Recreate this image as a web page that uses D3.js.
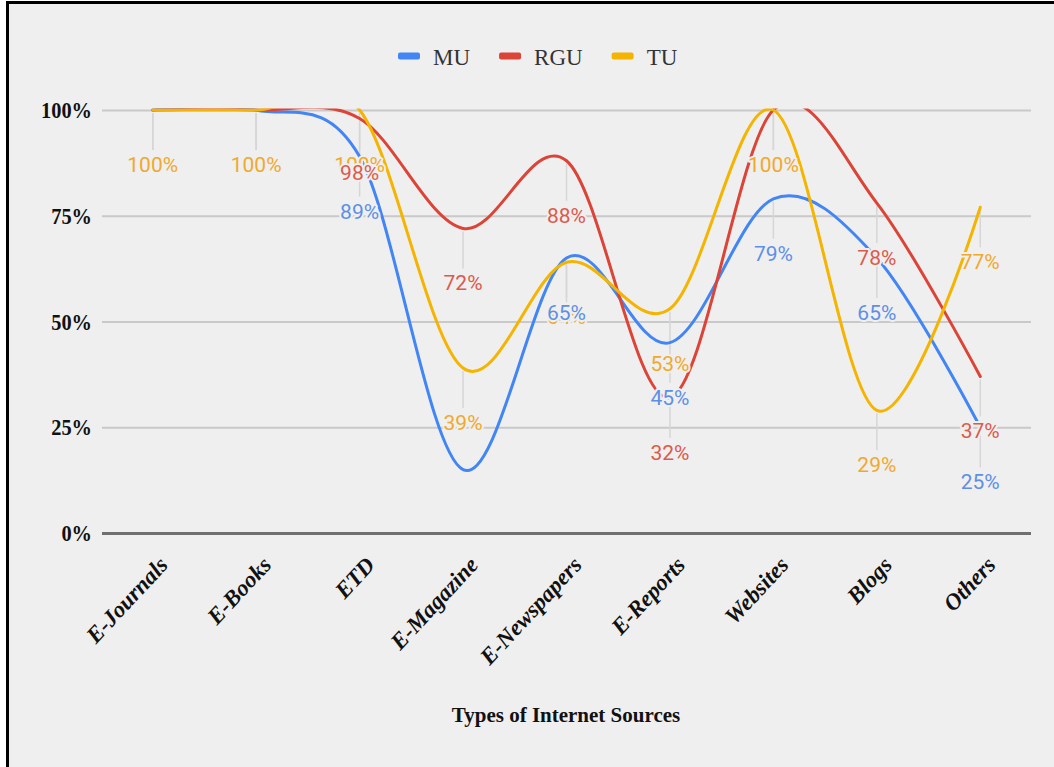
<!DOCTYPE html>
<html>
<head>
<meta charset="utf-8">
<script src="https://cdn.jsdelivr.net/npm/d3@7"></script>
<style>
  body { margin: 0; background: #fff; }
  svg { display: block; }
</style>
</head>
<body>
<svg id="chart"></svg>
<script>
// data (percent)
const categories = ["E-Journals", "E-Books", "ETD", "E-Magazine", "E-Newspapers", "E-Reports", "Websites", "Blogs", "Others"];
const muValues  = [100, 100, 89, 15, 65, 45, 79, 65, 25];
const rguValues = [100, 100, 98, 72, 88, 32, 100, 78, 37];
const tuValues  = [100, 100, 100, 39, 64, 53, 100, 29, 77];
const seriesNames = ["MU", "RGU", "TU"];
const yTicks = [0, 25, 50, 75, 100];
const xTitle = "Types of Internet Sources";

let width = 1054;
let height = 767;

let plot = { left: 102, right: 1031, top: 110, bottom: 533 };

const lineColors  = ["#4285f4", "#db4437", "#f4b400"];
const labelColors = ["#5e8fe6", "#dc5a4c", "#f0a92e"];
const bg = "#efefef";

const series = [muValues, rguValues, tuValues].map((vals, i) => ({
  name: seriesNames[i],
  line: lineColors[i],
  label: labelColors[i],
  points: vals.map((v, j) => ({ cat: categories[j], v: v, s: i }))
}));

let svg = d3.select("#chart")
  .attr("width", width)
  .attr("height", height);

// frame: background with a black edge on top and left
svg.append("rect").attr("x", 6).attr("y", 1).attr("width", width).attr("height", height).attr("fill", bg);
svg.append("rect").attr("x", 6).attr("y", 1).attr("width", width).attr("height", 3).attr("fill", "#000");
svg.append("rect").attr("x", 6).attr("y", 1).attr("width", 3).attr("height", height).attr("fill", "#000");

let xScale = d3.scalePoint()
  .domain(categories)
  .range([plot.left - 1, plot.right + 1])
  .padding(0.5);

let yScale = d3.scaleLinear()
  .domain([0, 100])
  .range([plot.bottom, plot.top]);

// y axis + gridlines
let yAxis = d3.axisLeft(yScale)
  .tickValues(yTicks)
  .tickSize(-(plot.right - plot.left))
  .tickPadding(10)
  .tickFormat(d => d + "%");

let yg = svg.append("g")
  .attr("class", "yaxis axis")
  .attr("transform", `translate(${plot.left},0)`)
  .call(yAxis);
yg.select(".domain").remove();
yg.selectAll(".tick line")
  .attr("stroke", d => d === 0 ? "#6f6f6f" : "#c9c9c9")
  .attr("stroke-width", d => d === 0 ? 3 : 2);
yg.selectAll(".tick text")
  .attr("font-family", "'Liberation Serif', serif")
  .attr("font-weight", "bold")
  .attr("font-size", 24)
  .attr("fill", "#111")
  .attr("x", -10 / 0.85)
  .attr("transform", "scale(0.85,1)");

// x axis labels
let xAxis = d3.axisBottom(xScale).tickSize(0).tickPadding(0);
let xg = svg.append("g")
  .attr("class", "xaxis axis")
  .attr("transform", `translate(0,${plot.bottom})`)
  .call(xAxis);
xg.select(".domain").remove();
xg.selectAll(".tick text")
  .attr("font-family", "'Liberation Serif', serif")
  .attr("font-weight", "bold")
  .attr("font-style", "italic")
  .attr("font-size", 23)
  .attr("fill", "#111")
  .attr("text-anchor", "end")
  .attr("x", 0).attr("y", 0).attr("dy", null)
  .attr("transform", "translate(16,33) rotate(-47)");

svg.append("text")
  .text(xTitle)
  .attr("x", 566)
  .attr("y", 722)
  .attr("text-anchor", "middle")
  .attr("font-family", "'Liberation Serif', serif")
  .attr("font-weight", "bold")
  .attr("font-size", 21)
  .attr("fill", "#111");

// label placement: text sits under its point
const labelDrop = 62;
const allPoints = series.flatMap(s => s.points)
  .filter(p => yScale(p.v) + labelDrop < plot.bottom - 8);

// faint leader lines from point down to label
svg.append("g").selectAll("line")
  .data(allPoints)
  .join("line")
  .attr("x1", d => xScale(d.cat))
  .attr("x2", d => xScale(d.cat))
  .attr("y1", d => yScale(d.v) + 3)
  .attr("y2", d => yScale(d.v) + labelDrop - 22)
  .attr("stroke", "#d6d6d6")
  .attr("stroke-width", 1.5);

// lines, clipped to the plot area like the original
svg.append("clipPath").attr("id", "plot-clip")
  .append("rect")
  .attr("x", plot.left).attr("y", plot.top - 1.5)
  .attr("width", plot.right - plot.left).attr("height", plot.bottom - plot.top + 3);

let line = d3.line()
  .x(d => xScale(d.cat))
  .y(d => yScale(d.v))
  .curve(d3.curveCardinal.tension(0));

svg.append("g").attr("clip-path", "url(#plot-clip)")
  .selectAll("path")
  .data(series)
  .join("path")
  .attr("d", d => line(d.points))
  .attr("fill", "none")
  .attr("stroke", d => d.line)
  .attr("stroke-width", 3)
  .attr("stroke-linecap", "round");

// data labels: TU drawn first, then MU, then RGU; identical labels in one category shown once
const labelOrder = [2, 0, 1];
let seen = new Set();
let ordered = [];
labelOrder.forEach(si => {
  allPoints.filter(p => p.s === si).forEach(p => {
    let key = p.cat + "|" + p.v;
    if (seen.has(key)) return;
    seen.add(key);
    ordered.push(p);
  });
});

svg.append("g").selectAll("text")
  .data(ordered)
  .join("text")
  .text(d => d.v + "%")
  .attr("x", d => xScale(d.cat))
  .attr("y", d => yScale(d.v) + labelDrop)
  .attr("text-anchor", "middle")
  .attr("font-family", "Roboto, sans-serif")
  .attr("font-size", 21)
  .attr("fill", d => series[d.s].label)
  .attr("stroke", bg)
  .attr("stroke-width", 4)
  .attr("stroke-linejoin", "round")
  .attr("paint-order", "stroke");

// legend
let legend = svg.append("g").attr("transform", "translate(0,56)");
let lx = 398;
series.forEach(s => {
  let g = legend.append("g").attr("transform", `translate(${lx},0)`);
  g.append("rect")
    .attr("x", 0).attr("y", -3.5)
    .attr("width", 22).attr("height", 7)
    .attr("rx", 2)
    .attr("fill", s.line);
  let t = g.append("text")
    .text(s.name)
    .attr("x", 35).attr("y", 9)
    .attr("font-family", "'Liberation Serif', serif")
    .attr("font-size", 23)
    .attr("fill", "#333");
  lx += 35 + t.node().getComputedTextLength() + 29;
});
</script>
</body>
</html>
